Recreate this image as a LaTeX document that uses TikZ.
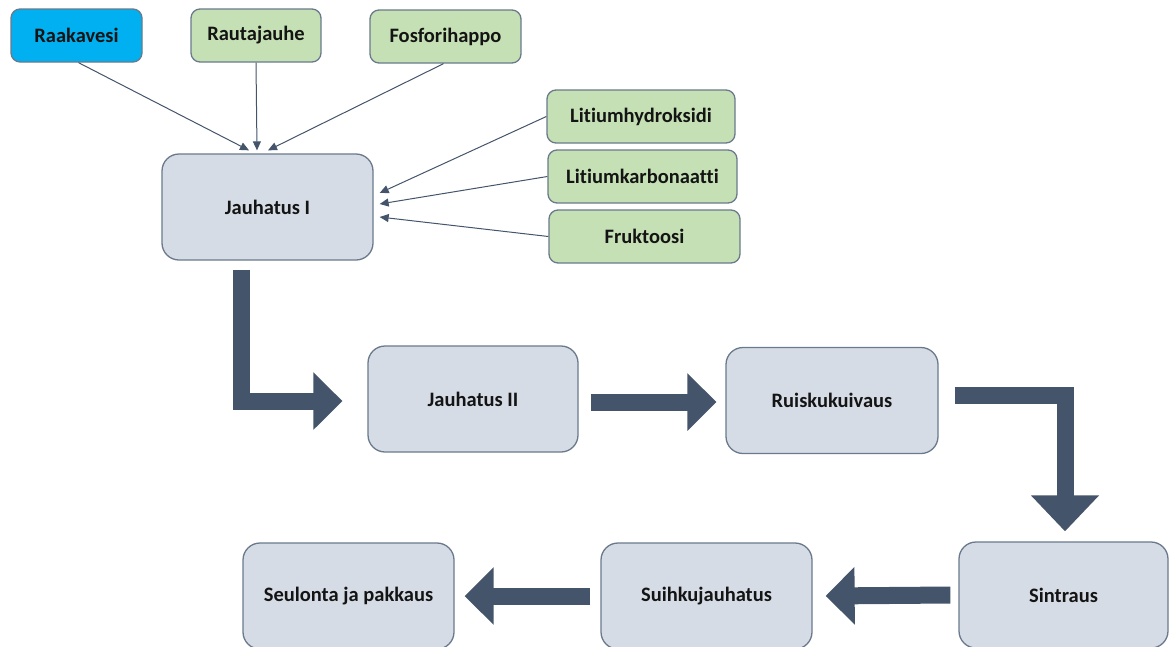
\documentclass[tikz,border=0pt]{standalone}
\usepackage{fontspec}
\setmainfont[Ligatures=NoCommon]{Carlito}
\usetikzlibrary{arrows.meta}

\definecolor{rawblue}{RGB}{0,176,240}
\definecolor{addgreen}{RGB}{197,224,180}
\definecolor{stepfill}{RGB}{214,220,229}
\definecolor{boxline}{RGB}{106,122,140}
\definecolor{flowdark}{RGB}{68,84,106}

\begin{document}
\begin{tikzpicture}[x=1pt,y=-1pt,
  every node/.style={font=\fontsize{20.5}{23}\selectfont\bfseries,text=black!92},
  smallbox/.style={draw=boxline,line width=1.3pt,rounded corners=9pt,minimum height=53pt,inner sep=0pt},
  stepbox/.style={draw=boxline,fill=stepfill,line width=1.3pt,rounded corners=17pt,minimum width=211pt,minimum height=106pt,inner sep=0pt},
  feed/.style={draw=flowdark,line width=1pt,-{Triangle[length=9pt,width=8pt]}},
  flow/.style={draw=flowdark,line width=17pt,line join=miter,-{Triangle[length=29pt,width=56pt]}}]
\useasboundingbox (0,0) rectangle (1170,646);
\clip (0,0) rectangle (1170,646);

% raw materials
\node[smallbox,fill=rawblue,minimum width=131pt] (raak) at (76.5,35.5) {Raakavesi};
\node[smallbox,fill=addgreen,minimum width=130pt] (raut) at (256,35.5) {Rautajauhe};
\node[smallbox,fill=addgreen,minimum width=151pt] (fosf) at (445.5,36.5) {Fosforihappo};
\node[smallbox,fill=addgreen,minimum width=188pt] (lioh) at (641,116.5) {Litiumhydroksidi};
\node[smallbox,fill=addgreen,minimum width=189pt] (lico) at (642.5,176.5) {Litiumkarbonaatti};
\node[smallbox,fill=addgreen,minimum width=191pt] (fruk) at (644.5,236.5) {Fruktoosi};

% process steps
\node[stepbox] (j1) at (267.5,207) {Jauhatus I};
\node[stepbox,minimum width=210pt] (j2) at (473,399) {Jauhatus II};
\node[stepbox,minimum width=212pt] (ruis) at (832,400.5) {Ruiskukuivaus};
\node[stepbox,minimum width=209pt] (sint) at (1063.5,595) {Sintraus};
\node[stepbox] (suih) at (706.5,596) {Suihkujauhatus};
\node[stepbox] (seul) at (348.5,596) {Seulonta ja pakkaus};

% feeds into Jauhatus I
\draw[feed] ([xshift=2pt]raak.south) -- ([xshift=-18.5pt,yshift=3pt]j1.north);
\draw[feed] (raut.south) -- ([xshift=-10.5pt,yshift=3pt]j1.north);
\draw[feed] ([xshift=-2pt]fosf.south) -- ([xshift=0.5pt,yshift=3pt]j1.north);
\draw[feed] (lioh.west) -- ([xshift=6pt,yshift=14pt]j1.east);
\draw[feed] (lico.west) -- ([xshift=6pt,yshift=3pt]j1.east);
\draw[feed] (fruk.west) -- ([xshift=6pt,yshift=-10pt]j1.east);

% main flow
\draw[flow] ([xshift=-26pt,yshift=-9pt]j1.south) |- ([xshift=-25pt,yshift=-2pt]j2.west);
\draw[flow] ([xshift=12pt,yshift=-3pt]j2.east) -- ([xshift=-9pt,yshift=-1.5pt]ruis.west);
\draw[flow,-{Triangle[length=36pt,width=66pt]}] ([xshift=16pt,yshift=5pt]ruis.east) -| ([xshift=1.5pt,yshift=10pt]sint.north);
\draw[flow] ([xshift=-8pt]sint.west) -- ([xshift=13pt]suih.east);
\draw[flow] ([xshift=-10pt]suih.west) -- ([xshift=10pt]seul.east);
\end{tikzpicture}
\end{document}
